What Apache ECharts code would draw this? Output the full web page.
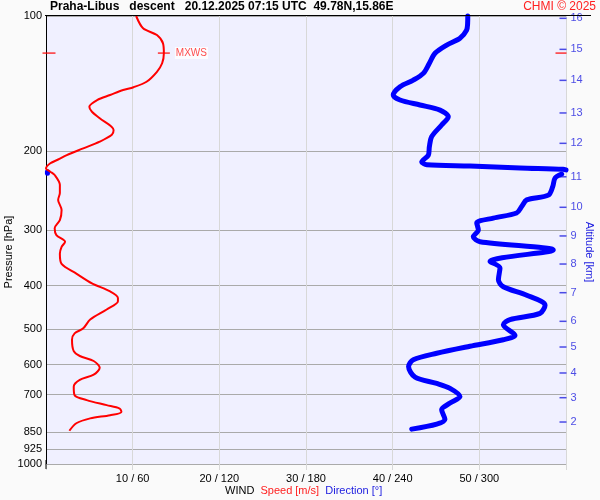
<!DOCTYPE html>
<html><head><meta charset="utf-8">
<script src="https://cdn.jsdelivr.net/npm/echarts@6/dist/echarts.min.js"></script>
<style>html,body{margin:0;padding:0;background:#fafafa}#c{width:600px;height:500px}</style>
</head><body><div id="c"></div>
<script>
// pressure levels (hPa) for y tick labels
const pressureTicks = [100, 200, 300, 400, 500, 600, 700, 850, 925, 1000];
// x ticks: speed (m/s) / direction (deg)
const speedTicks = [10, 20, 30, 40, 50];
const dirTicks = [60, 120, 180, 240, 300];
// altitude ticks (km) and their pressure positions (hPa)
const altKm = [16, 15, 14, 13, 12, 11, 10, 9, 8, 7, 6, 5, 4, 3, 2];
const altPressure = [101.2, 118.7, 139.2, 164.6, 192.4, 228.5, 267.3, 309.7, 357.8, 414.6, 480.3, 548.1, 626.4, 711.2, 805.9];
// wind speed profile
const speedP = [100,106.5,110.3,115.1,121.1,127.5,133.2,140.2,144.2,146.3,150.1,154.0,159.4,163.6,169.2,179.7,184.2,190.8,197.5,204.4,209.1,213.2,218.9,222.6,226.4,238.2,248.4,257.3,271.1,285.6,297.7,308.3,319.1,327.7,339.5,357.7,375.9,395.2,412,426,433,452,476,498,511,528,560,574,589,610,632,649,672,702,720,739,752,765,778,791,811,843];
const speedV = [10.4,11.2,12.8,13.5,13.6,13.4,12.8,11.6,10.1,8.9,7.4,5.9,5.0,5.3,6.2,7.8,7.6,6.2,4.3,2.4,1.4,0.5,0,0.5,1.0,1.6,1.6,1.4,1.8,1.6,1.0,1.2,2.2,1.8,1.6,1.8,3.5,5.3,7.4,8.3,8.3,7.0,5.1,4.3,3.3,3.0,3.2,3.9,5.5,6.2,5.5,3.9,3.2,3.3,4.7,7.0,8.5,8.7,7.4,5.1,3.5,2.7];
// wind direction profile (null = break at 360/0 wrap)
const dirP = [100,103.8,107.5,112.1,116.1,121.1,127.5,134.3,139.0,143.8,150.1,154.0,158.0,162.2,167.8,175.1,185.9,195.8,204.4,211.7,214.7,216.2,218.4,219.9,220.6,null,222.8,224.5,null,225.3,230.1,240.4,251.1,257.3,266.3,275.2,282.5,289.7,300.3,311,319,333,353,365,388,402,420,442,461,476,489,516,528,546,566,585,606,640,661,678,707,731,757,795,815,836];
const dirV = [292,291.9,291.2,286.6,277.4,269.3,265.4,261.2,254.3,245.1,240.4,245.1,258.9,272.8,278.5,273.9,267.0,265.4,264.7,260.1,263.6,293.5,328.2,358,360,null,1,1,null,357,352.4,350.8,347.8,332.8,329.3,325.8,309.7,298.2,299.3,295.8,300.5,351.2,307.4,314.3,313.2,316.6,332.8,345.5,342,321.2,316.6,324.7,316.6,293.5,270.5,254.3,251,255.5,270.5,279.7,286.6,279.7,273.9,276.2,270.5,253.2];
// maximum wind
const mxwsP = 121;
const mxwsSpeed = 13.6;

const FONT = 'Liberation Sans, Arial, sans-serif';
const chart = echarts.init(document.getElementById('c'));

const dirSegments = [];
let cur = [];
for (let i = 0; i < dirP.length; i++) {
  if (dirP[i] === null) { if (cur.length) dirSegments.push(cur); cur = []; }
  else cur.push([dirV[i], dirP[i]]);
}
if (cur.length) dirSegments.push(cur);

const series = [];
dirSegments.forEach(seg => series.push({
  type: 'line', xAxisIndex: 1, yAxisIndex: 0, data: seg, showSymbol: false,
  smooth: 0.3, clip: false, animation: false, z: 3,
  lineStyle: { color: '#0000ff', width: 5, cap: 'round', join: 'round' }
}));
series.push({
  type: 'line', xAxisIndex: 0, yAxisIndex: 0,
  data: speedP.map((p, i) => [speedV[i], p]), showSymbol: false,
  smooth: 0.3, clip: false, animation: false, z: 4,
  lineStyle: { color: '#ff0000', width: 2 }
});
// altitude ticks on right edge
series.push({
  type: 'scatter', xAxisIndex: 0, yAxisIndex: 0, clip: false, animation: false, silent: true,
  data: altPressure.map((p, i) => ({ value: [60, p], name: String(altKm[i]) })),
  symbol: 'rect', symbolSize: [7, 1.5], symbolOffset: [-3, 0],
  itemStyle: { color: '#2020e0' },
  label: { show: true, position: 'right', distance: 4, formatter: d => d.name,
    color: '#2020e0', fontSize: 11, fontFamily: FONT }
});
// MXWS markers
series.push({
  type: 'scatter', xAxisIndex: 0, yAxisIndex: 0, clip: false, animation: false, silent: true,
  data: [
    { value: [0, mxwsP], symbolOffset: [3, 0], symbolSize: [13, 1.5] },
    { value: [mxwsSpeed, mxwsP], symbolSize: [12, 1.5], label: { show: true } },
    { value: [60, mxwsP], symbolOffset: [-5, 0], symbolSize: [11, 1.5] }
  ],
  symbol: 'rect', itemStyle: { color: '#ff0000' }, z: 5,
  label: { show: false, position: 'right', distance: 5, formatter: 'MXWS', color: '#ff2020',
    fontSize: 10, fontFamily: FONT, backgroundColor: '#ffffff', padding: [1, 1] }
});

chart.setOption({
  backgroundColor: '#fafafa',
  animation: false,
  textStyle: { fontFamily: FONT },
  grid: { left: 46, right: 34, top: 16, bottom: 36, show: true, backgroundColor: '#f0f0ff', borderWidth: 0,
    containLabel: false, outerBoundsMode: 'none' },
  title: [
    { text: 'Praha-Libus   descent   20.12.2025 07:15 UTC  49.78N,15.86E', left: 50, top: 1, padding: 0,
      textStyle: { fontSize: 12, fontWeight: 'bold', color: '#000', fontFamily: FONT } },
    { text: 'CHMI © 2025', right: 4, top: 1, padding: 0,
      textStyle: { fontSize: 12, fontWeight: 'normal', color: '#ff2020', fontFamily: FONT } },
    { text: 'WIND  {r|Speed [m/s]}  {b|Direction [°]}', left: 225, top: 485, padding: 0,
      textStyle: { fontSize: 11, fontWeight: 'normal', color: '#000', fontFamily: FONT,
        rich: { r: { color: '#ff2020', fontSize: 11, fontFamily: FONT }, b: { color: '#2020e0', fontSize: 11, fontFamily: FONT } } } }
  ],
  xAxis: [
    { type: 'value', min: 0, max: 60, interval: 10, position: 'bottom',
      axisLine: { show: true, lineStyle: { color: '#aaaaaa' } },
      axisTick: { show: true, length: 6, lineStyle: { color: '#d8d8d8' } },
      splitLine: { show: true, lineStyle: { color: '#d8d8d8' } },
      axisLabel: { fontSize: 11, color: '#000', margin: 9, fontFamily: FONT,
        formatter: v => { const i = speedTicks.indexOf(v); return i < 0 ? '' : speedTicks[i] + ' / ' + dirTicks[i]; } } },
    { type: 'value', min: 0, max: 360, show: false }
  ],
  yAxis: [
    { type: 'log', logBase: 10, min: 100, max: 1000, inverse: true,
      axisLine: { show: true, lineStyle: { color: '#000' } },
      axisTick: { show: false, customValues: pressureTicks },
      axisLabel: { customValues: pressureTicks, fontSize: 11, color: '#000', margin: 4, fontFamily: FONT,
        formatter: v => String(Math.round(v)) },
      splitLine: { show: true, lineStyle: { color: '#aaaaaa' } } }
  ],
  graphic: [
    { type: 'line', shape: { x1: 45, y1: 15.5, x2: 591, y2: 15.5 }, style: { stroke: '#000', lineWidth: 1 }, z: 10 },
    { type: 'line', shape: { x1: 46, y1: 460, x2: 46, y2: 469 }, style: { stroke: '#000', lineWidth: 1 }, z: 10 },
    { type: 'text', x: 9, y: 252, rotation: Math.PI / 2,
      style: { text: 'Pressure [hPa]', align: 'center', verticalAlign: 'middle', font: '11px Liberation Sans, Arial, sans-serif', fill: '#000' } },
    { type: 'text', x: 589, y: 252, rotation: -Math.PI / 2,
      style: { text: 'Altitude [km]', align: 'center', verticalAlign: 'middle', font: '11px Liberation Sans, Arial, sans-serif', fill: '#2020e0' } }
  ],
  series: series
});
</script></body></html>
